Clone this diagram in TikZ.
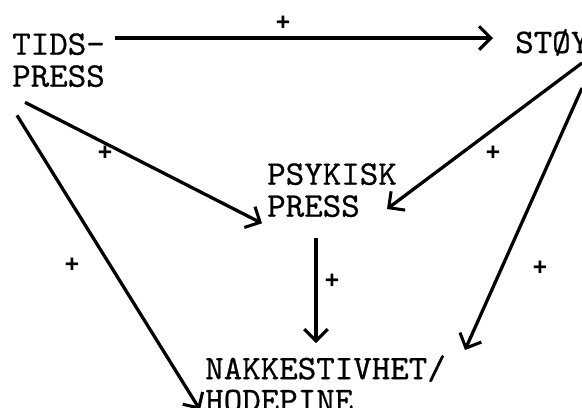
\documentclass[tikz,border=0pt]{standalone}
\usepackage{fontspec}
\newfontfamily\signfont{Liberation Sans}
\newfontfamily\typefont{lmmono10-regular.otf}[FakeStretch=1.02,FakeBold=0.6]
\usetikzlibrary{arrows.meta,calc}

\tikzset{
  label/.style={anchor=north west,inner sep=0pt,align=left,
    font=\typefont\fontsize{29.5}{27.3}\selectfont},
  sign/.style={inner sep=0pt,font=\signfont\bfseries\fontsize{21}{21}\selectfont},
  link/.style={line width=2.8pt,-{Straight Barb[length=10pt,width=20pt,line width=2.6pt]}},
}

\begin{document}
\begin{tikzpicture}[x=0.03cm,y=-0.03cm]
  \clip (0,0) rectangle (582,407);
  \useasboundingbox (0,0) rectangle (582,407);

  % factors
  \node[label] (tids) at (12,33) {TIDS-\\PRESS};
  \node[label,anchor=base west] (stoy) at (515,53) {STØY};
  \node[label] (psyk) at (267,163) {PSYKISK\\PRESS};
  \node[label] (nakk) at (205,355) {NAKKESTIVHET/\\HODEPINE};

  % effects
  \draw[link] ($(tids.north west)+(115-12,5)$) -- ($(stoy.base west)+(-22,-15)$);
  \draw[link] ($(tids.south west)+(13,15)$) -- ($(psyk.south west)+(-5,6)$);
  \draw[link] ($(tids.south west)+(5,28)$) -- ($(nakk.south west)+(-5,-2)$);
  \draw[link] ($(stoy.base west)+(67,10)$) -- ($(psyk.north west)+(120,46)$);
  \draw[link] ($(stoy.base west)+(67,35)$) -- ($(nakk.north west)+(260,-5)$);
  \draw[link] ($(psyk.south west)+(49,21)$) -- ($(nakk.north west)+(111,-12)$);

  % signs
  \node[sign] (s1) at (283,23) {+};
  \node[sign] (s2) at (105,153) {+};
  \node[sign] (s3) at (72,265) {+};
  \node[sign] (s4) at (493,153) {+};
  \node[sign] (s5) at (540,268) {+};
  \node[sign] (s6) at (332,281) {+};
\end{tikzpicture}
\end{document}
